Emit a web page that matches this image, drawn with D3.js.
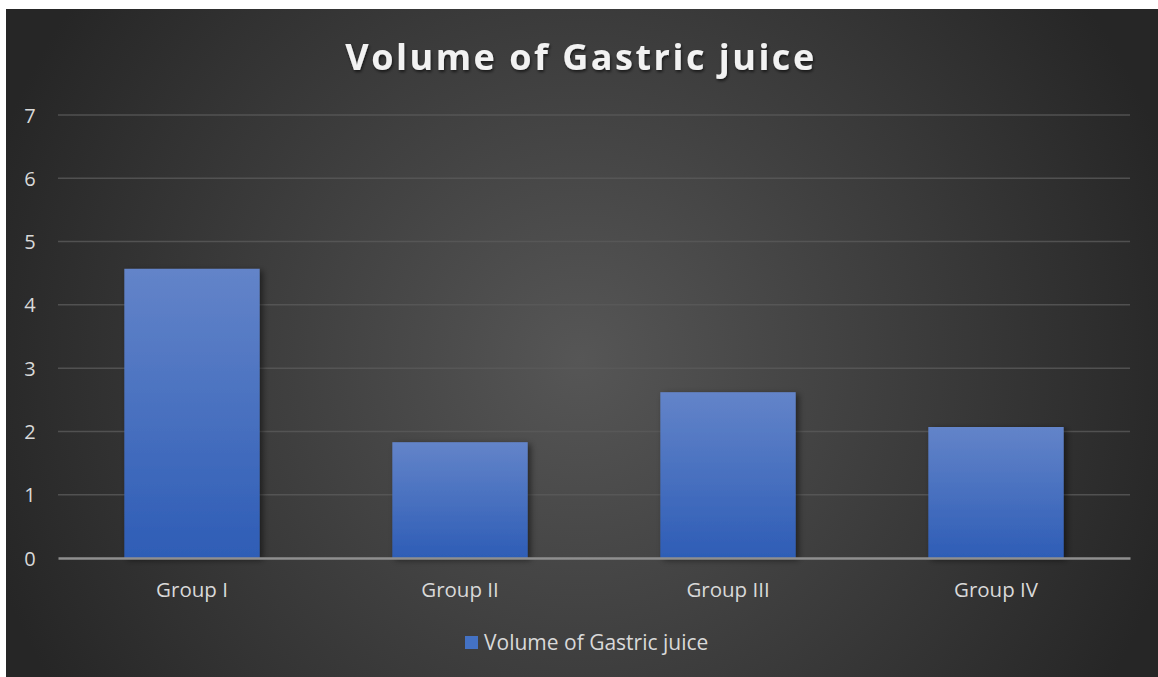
<!DOCTYPE html>
<html>
<head>
<meta charset="utf-8">
<script src="https://cdn.jsdelivr.net/npm/d3@7"></script>
<style>
  body { margin: 0; background: #fff; }
  svg { display: block; }
</style>
</head>
<body>
<div id="chart"></div>
<script>
// data
const groups = ["Group I", "Group II", "Group III", "Group IV"];
const volumes = [4.57, 1.83, 2.62, 2.07];
const yTicks = [0, 1, 2, 3, 4, 5, 6, 7];
const seriesName = "Volume of Gastric juice";
const chartTitle = "Volume of Gastric juice";

const W = 1158, H = 677;
const margin = {left: 58, right: 28, top: 115, bottom: 119};
const font = "'Open Sans', sans-serif";

const svg = d3.select("#chart").append("svg")
    .attr("width", W).attr("height", H);

const defs = svg.append("defs");
const bg = defs.append("radialGradient").attr("id", "bg")
    .attr("gradientUnits", "userSpaceOnUse")
    .attr("cx", 580).attr("cy", 360).attr("r", 620);
bg.append("stop").attr("offset", "0%").attr("stop-color", "#565656");
bg.append("stop").attr("offset", "100%").attr("stop-color", "#262626");

const barGrad = defs.append("linearGradient").attr("id", "bar")
    .attr("x1", 0).attr("y1", 0).attr("x2", 0).attr("y2", 1);
barGrad.append("stop").attr("offset", "0%").attr("stop-color", "#6384c9");
barGrad.append("stop").attr("offset", "100%").attr("stop-color", "#2e5db6");

const shadow = defs.append("filter").attr("id", "shadow")
    .attr("x", "-20%").attr("y", "-20%").attr("width", "140%").attr("height", "140%");
shadow.append("feDropShadow").attr("dx", 3).attr("dy", 2).attr("stdDeviation", 3)
    .attr("flood-color", "#000").attr("flood-opacity", 0.5);

const tshadow = defs.append("filter").attr("id", "tshadow");
tshadow.append("feDropShadow").attr("dx", 1).attr("dy", 2).attr("stdDeviation", 1.5)
    .attr("flood-color", "#000").attr("flood-opacity", 0.6);

svg.append("rect").attr("x", 6).attr("y", 9).attr("width", W - 6).attr("height", H - 9)
    .attr("fill", "url(#bg)");

const x = d3.scaleBand().domain(groups)
    .range([margin.left, W - margin.right]).paddingInner(0.495).paddingOuter(0.2475);
const y = d3.scaleLinear().domain([0, 7]).range([H - margin.bottom, margin.top]);

// gridlines
svg.append("g").selectAll("line").data(yTicks.filter(d => d > 0)).join("line")
    .attr("x1", margin.left).attr("x2", W - margin.right)
    .attr("y1", d => y(d)).attr("y2", d => y(d))
    .attr("stroke", "#5a5a5a").attr("stroke-width", 1.5).attr("stroke-opacity", 0.8);

// y axis labels
const yAxis = svg.append("g").attr("transform", `translate(${margin.left - 28},0)`)
    .call(d3.axisLeft(y).tickValues(yTicks).tickFormat(d3.format("d")).tickSize(0).tickPadding(0))
    .attr("font-size", 20).attr("font-family", font);
yAxis.select(".domain").remove();
yAxis.selectAll("text").attr("text-anchor", "middle").attr("dy", "0.35em")
    .attr("fill", "#d9d9d9");

// bars
svg.append("g").selectAll("rect").data(volumes).join("rect")
    .attr("x", (d, i) => x(groups[i]))
    .attr("y", d => y(d))
    .attr("width", x.bandwidth())
    .attr("height", d => y(0) - y(d))
    .attr("fill", "url(#bar)")
    .attr("filter", "url(#shadow)");

// x axis
const xAxis = svg.append("g").attr("transform", `translate(0,${y(0)})`)
    .call(d3.axisBottom(x).tickSize(0).tickPadding(24))
    .attr("font-size", 20.5).attr("font-family", font);
xAxis.select(".domain").attr("stroke", "#8f8f8f").attr("stroke-width", 2.5);
xAxis.selectAll("text").attr("fill", "#d9d9d9");

// title
svg.append("text").attr("x", 581).attr("y", 70).attr("text-anchor", "middle")
    .attr("fill", "#f2f2f2").attr("filter", "url(#tshadow)")
    .attr("font-family", font).attr("font-weight", "bold")
    .attr("font-size", 36).style("letter-spacing", "2.5px")
    .text(chartTitle);

// legend
const legend = svg.append("g").attr("transform", "translate(465,636)");
legend.append("rect").attr("width", 13).attr("height", 13).attr("fill", "#4472c4");
legend.append("text").attr("x", 19).attr("y", 6.5).attr("dy", "0.35em")
    .attr("fill", "#d9d9d9").attr("font-family", font).attr("font-size", 21)
    .text(seriesName);
</script>
</body>
</html>
